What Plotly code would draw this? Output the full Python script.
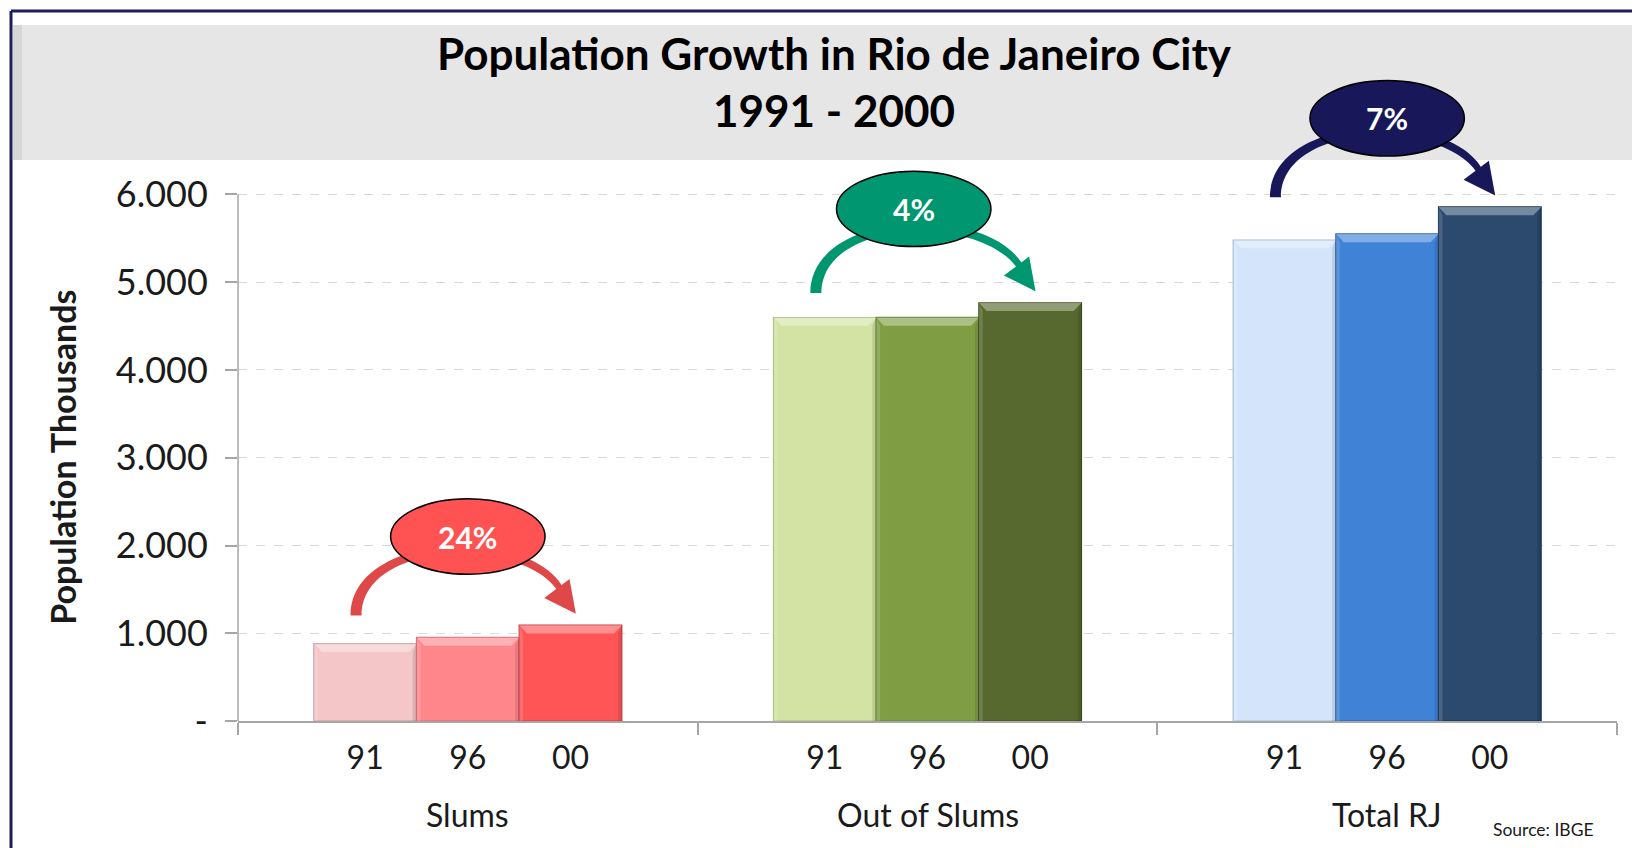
import plotly.graph_objects as go

# ---------------- data ----------------
CATEGORIES = ["Slums", "Out of Slums", "Total RJ"]
YEARS = ["91", "96", "00"]
SLUMS = [882, 952, 1092]
OUT_OF_SLUMS = [4598, 4599, 4766]
TOTAL_RJ = [5481, 5552, 5858]
GROWTH_LABELS = ["24%", "4%", "7%"]
Y_TICKS = [0, 1000, 2000, 3000, 4000, 5000, 6000]
Y_TICK_LABELS = ["-", "1.000", "2.000", "3.000", "4.000", "5.000", "6.000"]
TITLE = "Population Growth in Rio de Janeiro City<br>1991 - 2000"
Y_TITLE = "Population Thousands"
SOURCE = "Source: IBGE"

SERIES = [SLUMS, OUT_OF_SLUMS, TOTAL_RJ]

# ---------------- styles ----------------
BAR_COLORS = [
    ["#f4c6c7", "#ff878c", "#ff5556"],
    ["#d3e3a4", "#7f9e43", "#57692f"],
    ["#d4e5fb", "#3f82d6", "#2b4a6e"],
]
BAR_LINES = [
    ["#c99c9d", "#d86a70", "#c84043"],
    ["#a9bb80", "#62802f", "#3f4f20"],
    ["#a8b9d0", "#2c62a8", "#1d3350"],
]
BUBBLE = ["#ff5353", "#009670", "#17175a"]
ARROW = ["#df4848", "#009670", "#17175a"]
BUBBLE_DX = [0.0, -0.03, 0.0]
BUBBLE_DY = [0, 60, 0]
FONT = "Lato, 'Open Sans', sans-serif"
TEXT = "#1a1a1a"
AXIS = "#a6a6a6"

OFF = 8                      # page body margin
W, H = 1640 - OFF, 848 - OFF
ML, MR, MT, MB = 230, 23, 13, 127
Y_RANGE = [0, 7977]
BARGAP = 0.33


def px_x(page_px):
    return (page_px - OFF - ML) / (W - ML - MR)


def px_y(page_py):
    return (H - MB - (page_py - OFF)) / (H - MT - MB)


bar_w = (1 - BARGAP) / len(YEARS)
fig = go.Figure()
for j, yr in enumerate(YEARS):
    fig.add_trace(go.Bar(
        x=list(range(len(CATEGORIES))),
        y=[SERIES[g][j] for g in range(len(CATEGORIES))],
        name=yr,
        marker=dict(color=[BAR_COLORS[g][j] for g in range(len(CATEGORIES))],
                    line=dict(color=[BAR_LINES[g][j] for g in range(len(CATEGORIES))], width=1.2)),
        hovertemplate="%{y}<extra>" + yr + "</extra>",
    ))

tickvals, ticktext = [], []
for g in range(len(CATEGORIES)):
    for j, yr in enumerate(YEARS):
        tickvals.append(g + (j - (len(YEARS) - 1) / 2) * bar_w)
        ticktext.append(yr)

shapes = []
# title box
shapes.append(dict(type="rect", xref="paper", yref="paper", layer="below",
                   x0=px_x(13), x1=px_x(1640), y0=px_y(160), y1=px_y(25),
                   fillcolor="#e6e6e6", line=dict(width=0)))
shapes.append(dict(type="rect", xref="paper", yref="paper", layer="below",
                   x0=px_x(13), x1=px_x(22), y0=px_y(160), y1=px_y(25),
                   fillcolor="#d6d6d6", line=dict(width=0)))
# frame
shapes.append(dict(type="line", xref="paper", yref="paper", layer="above",
                   x0=px_x(11), x1=px_x(1640), y0=px_y(11), y1=px_y(11),
                   line=dict(color="#1e1e5a", width=3)))
shapes.append(dict(type="line", xref="paper", yref="paper", layer="above",
                   x0=px_x(11), x1=px_x(11), y0=px_y(11), y1=px_y(848),
                   line=dict(color="#1e1e5a", width=3)))
# y axis line (only up to the last tick)
shapes.append(dict(type="line", xref="paper", yref="y", layer="above",
                   x0=0, x1=0, y0=Y_TICKS[0], y1=Y_TICKS[-1],
                   line=dict(color=AXIS, width=1.5)))

# bevel highlights on the bars (derived from the bar geometry)
BEV_X, BEV_Y = 0.017, 95
for g in range(len(CATEGORIES)):
    for j in range(len(YEARS)):
        xc = tickvals[g * len(YEARS) + j]
        x0, x1, v = xc - bar_w / 2, xc + bar_w / 2, SERIES[g][j]
        shapes.append(dict(type="path", xref="x", yref="y", layer="above",
                           path=f"M {x0},{v} L {x1},{v} L {x1 - BEV_X},{v - BEV_Y} L {x0 + BEV_X},{v - BEV_Y} Z",
                           fillcolor="rgba(255,255,255,0.35)", line=dict(width=0)))
        shapes.append(dict(type="path", xref="x", yref="y", layer="above",
                           path=f"M {x1},{v} L {x1},0 L {x1 - BEV_X / 2},0 L {x1 - BEV_X / 2},{v - BEV_Y} Z",
                           fillcolor="rgba(0,0,0,0.10)", line=dict(width=0)))
        shapes.append(dict(type="path", xref="x", yref="y", layer="above",
                           path=f"M {x0},{v} L {x0},0 L {x0 + BEV_X / 2},0 L {x0 + BEV_X / 2},{v - BEV_Y} Z",
                           fillcolor="rgba(255,255,255,0.15)", line=dict(width=0)))

annotations = []
for g, cat in enumerate(CATEGORIES):
    top = max(SERIES[g])
    yc = top + 1010
    sx, ex = g - 0.243, g + 0.213
    sy, ey = yc - 900, yc - 745
    ho, he = 0.012, 0.0055
    t_o, t_i = yc + 130, yc + 10
    path = (f"M {sx - ho},{sy} C {sx - ho},{t_o} {g + 0.19},{t_o} {ex + he},{ey} "
            f"L {ex - he},{ey} C {g + 0.16},{t_i} {sx + ho},{t_i} {sx + ho},{sy} Z")
    shapes.append(dict(type="path", xref="x", yref="y", layer="above", path=path,
                       fillcolor=ARROW[g], line=dict(width=0)))
    bx, by = g + BUBBLE_DX[g], yc + BUBBLE_DY[g]
    shapes.append(dict(type="circle", xref="x", yref="y", layer="above",
                       x0=bx - 0.168, x1=bx + 0.168, y0=by - 430, y1=by + 430,
                       fillcolor=BUBBLE[g], line=dict(color="black", width=1.5)))
    annotations.append(dict(x=bx, y=by, xref="x", yref="y", text="<b>%s</b>" % GROWTH_LABELS[g],
                            showarrow=False, font=dict(family=FONT, size=30, color="white")))
    annotations.append(dict(x=g + 0.235, y=yc - 880, xref="x", yref="y", text="",
                            showarrow=True, arrowhead=2, arrowsize=1.15, arrowwidth=5.5,
                            arrowcolor=ARROW[g], ax=-9, ay=-12))
    annotations.append(dict(x=g, y=0, xref="x", yref="paper", yanchor="middle",
                            yshift=-93, text=cat, showarrow=False,
                            font=dict(family=FONT, size=32, color=TEXT)))

annotations.append(dict(x=px_x(63), y=(Y_TICKS[0] + Y_TICKS[-1]) / 2, xref="paper", yref="y",
                        xanchor="center", yanchor="middle",
                        text="<b>%s</b>" % Y_TITLE, textangle=-90, showarrow=False,
                        font=dict(family=FONT, size=34, color=TEXT)))
annotations.append(dict(x=px_x(1596), y=px_y(829), xref="paper", yref="paper",
                        xanchor="right", yanchor="middle", text=SOURCE, showarrow=False,
                        font=dict(family=FONT, size=17.5, color=TEXT)))

fig.update_layout(
    width=W, height=H,
    margin=dict(l=ML, r=MR, t=MT, b=MB),
    paper_bgcolor="white", plot_bgcolor="rgba(0,0,0,0)",
    barmode="group", bargap=BARGAP, bargroupgap=0,
    showlegend=False,
    font=dict(family=FONT, color=TEXT),
    title=dict(text="<b>%s</b>" % TITLE, x=(834 - OFF) / W, xref="container", xanchor="center",
               y=1 - 62 / H, yref="container", yanchor="middle",
               font=dict(family=FONT, size=44, color="black")),
    xaxis=dict(range=[-0.5, len(CATEGORIES) - 0.5], tickmode="array", tickvals=tickvals,
               ticktext=ticktext, ticks="", showgrid=False, zeroline=False,
               showline=True, linecolor=AXIS, linewidth=1.5,
               tickfont=dict(family=FONT, size=32, color=TEXT), ticklabelstandoff=8,
               minor=dict(tickmode="array", tickvals=[k - 0.5 for k in range(len(CATEGORIES) + 1)],
                          ticks="outside", ticklen=12, tickwidth=1.5, tickcolor=AXIS, showgrid=False)),
    yaxis=dict(range=Y_RANGE, tickmode="array", tickvals=Y_TICKS, ticktext=Y_TICK_LABELS,
               ticks="outside", ticklen=12, tickwidth=1.5, tickcolor=AXIS,
               showgrid=True, gridcolor="#d9d9d9", griddash="dash", gridwidth=1,
               zeroline=False, showline=False,
               tickfont=dict(family=FONT, size=36, color=TEXT), ticklabelstandoff=10),
    shapes=shapes,
    annotations=annotations,
)

fig.write_html("out.html")
